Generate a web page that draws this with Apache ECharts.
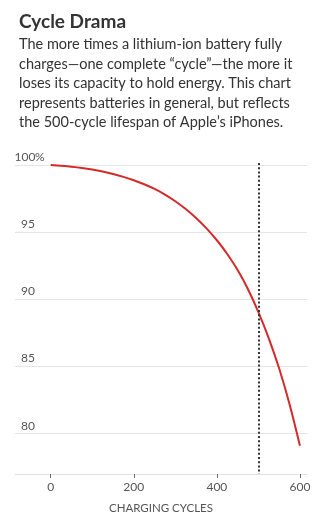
<!DOCTYPE html>
<html>
<head>
<meta charset="utf-8">
<script src="https://cdn.jsdelivr.net/npm/echarts@6/dist/echarts.min.js"></script>
<style>
  html, body { margin: 0; padding: 0; background: #fff; }
  #chart { width: 322px; height: 521px; }
</style>
</head>
<body>
<div id="chart"></div>
<script>
// Battery capacity (%) by number of full charging cycles
const cycles = [0, 25, 50, 75, 100, 125, 150, 175, 200, 225, 250, 275, 300, 325, 350, 375, 400, 425, 450, 475, 500, 525, 550, 575, 600];
const capacity = [100, 99.94, 99.87, 99.78, 99.66, 99.51, 99.33, 99.12, 98.87, 98.57, 98.22, 97.8, 97.3, 96.72, 96.05, 95.28, 94.4, 93.38, 92.18, 90.75, 89.05, 87.1, 84.85, 82.2, 79.1];
const yTicks = [80, 85, 90, 95, 100];
const xTicks = [0, 200, 400, 600];
const lifespanCycles = 500;

const titleText = 'Cycle Drama';
const subLines = [
  'The more times a lithium-ion battery fully',
  'charges\u2014one complete \u201ccycle\u201d\u2014the more it',
  'loses its capacity to hold energy. This chart',
  'represents batteries in general, but reflects',
  'the 500-cycle lifespan of Apple\u2019s iPhones.'
];
const xName = 'CHARGING CYCLES';

const FONT = 'Lato, "Noto Sans", sans-serif';
const Y_MIN = 77;
const Y_MAX = 100.15;
const chart = echarts.init(document.getElementById('chart'), null, { renderer: 'canvas' });

chart.setOption({
  animation: false,
  backgroundColor: '#fff',
  textStyle: { fontFamily: FONT },
  title: {
    text: titleText,
    subtext: subLines.join('\n'),
    left: 14,
    top: 7,
    itemGap: 4,
    textStyle: { fontFamily: FONT, fontSize: 19, fontWeight: 'bold', color: '#333' },
    subtextStyle: { fontFamily: FONT, fontSize: 14.5, lineHeight: 19.5, color: '#333' }
  },
  grid: { left: 15, right: 15, top: 163, bottom: 47 },
  xAxis: {
    type: 'value',
    min: -86,
    max: 617,
    splitLine: { show: false },
    axisLine: { show: true, lineStyle: { color: '#e2e2e2', width: 1 } },
    axisTick: { show: true, customValues: xTicks, length: 4, lineStyle: { color: '#666' } },
    axisLabel: { customValues: xTicks, color: '#555', fontSize: 12, margin: 7, fontFamily: FONT },
    name: xName,
    nameLocation: 'middle',
    nameGap: 28,
    nameTextStyle: { color: '#555', fontSize: 11.5, fontFamily: FONT }
  },
  yAxis: {
    type: 'value',
    min: Y_MIN,
    max: Y_MAX,
    axisLine: { show: false },
    axisTick: { show: false, customValues: yTicks },
    splitLine: { show: true, lineStyle: { color: '#e5e5e5', width: 1 } },
    axisLabel: {
      customValues: yTicks,
      inside: true,
      margin: 0,
      verticalAlign: 'bottom',
      align: 'left',
      padding: [0, 0, 2, 0],
      formatter: v => v === 100 ? '{n|100}{p|%}' : '{n|' + v + '}',
      rich: {
        n: { width: 20, align: 'right', color: '#555', fontSize: 12, fontFamily: FONT },
        p: { color: '#555', fontSize: 12, fontFamily: FONT }
      }
    }
  },
  series: [{
    type: 'line',
    data: cycles.map((c, i) => [c, capacity[i]]),
    smooth: 0.35,
    showSymbol: false,
    lineStyle: { color: '#d42a2a', width: 2 },
    z: 3,
    markLine: {
      silent: true,
      symbol: 'none',
      label: { show: false },
      lineStyle: { color: '#333', type: [2, 2.2], width: 2 },
      data: [[{ coord: [lifespanCycles, Y_MAX] }, { coord: [lifespanCycles, Y_MIN] }]]
    }
  }]
});
</script>
</body>
</html>
